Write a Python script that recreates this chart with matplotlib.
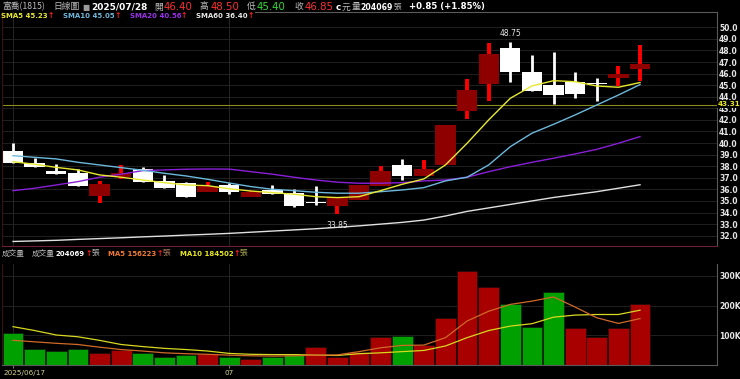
import numpy as np
import matplotlib
matplotlib.use('Agg')
import matplotlib.pyplot as plt
from matplotlib.ticker import FuncFormatter

# 富喬(1815) 日線 2025/06/17 ~ 2025/07/28
dates = ['06/17', '06/18', '06/19', '06/20', '06/23', '06/24', '06/25', '06/26', '06/27', '06/30',
         '07/01', '07/02', '07/03', '07/04', '07/07', '07/08', '07/09', '07/10', '07/11', '07/14',
         '07/15', '07/16', '07/17', '07/18', '07/21', '07/22', '07/23', '07/24', '07/25', '07/28']
opens = [39.35, 38.25, 37.60, 37.40, 35.45, 37.05, 37.75, 36.75, 36.55, 35.75,
         36.40, 35.30, 35.95, 35.65, 34.95, 34.60, 35.10, 36.25, 38.10, 37.15,
         38.10, 42.75, 45.10, 48.20, 46.10, 45.00, 45.30, 45.15, 45.60, 46.40]
highs = [40.00, 38.75, 38.15, 37.80, 36.75, 38.10, 37.90, 37.25, 36.65, 36.65,
         36.55, 35.85, 36.40, 36.00, 36.25, 35.35, 36.40, 38.00, 38.65, 38.55,
         41.60, 45.55, 48.65, 48.75, 47.60, 47.85, 46.15, 45.65, 46.65, 48.50]
lows = [38.25, 37.95, 37.35, 36.25, 34.85, 36.90, 36.60, 36.15, 35.35, 35.75,
        35.60, 35.30, 35.60, 34.50, 34.65, 33.85, 35.10, 36.25, 36.85, 37.15,
        38.10, 42.10, 43.60, 45.30, 44.50, 43.40, 43.90, 43.60, 44.95, 45.40]
closes = [38.25, 37.95, 37.35, 36.25, 36.45, 37.45, 36.60, 36.15, 35.35, 36.30,
          35.75, 35.80, 35.60, 34.60, 34.80, 35.30, 36.40, 37.60, 37.15, 37.80,
          41.60, 44.60, 47.70, 46.15, 44.50, 44.15, 44.25, 45.10, 46.00, 46.85]
prev_close = 39.50
volumes = [108000, 54000, 47000, 54000, 42000, 52000, 42000, 27000, 32000, 36000,
           26000, 19000, 27000, 33000, 59000, 28000, 45000, 95000, 99000, 67000,
           158000, 315000, 264000, 207000, 128000, 247000, 123000, 93000, 124000, 204069]

sma5 = [38.39, 38.17, 37.90, 37.68, 37.25, 37.05, 36.81, 36.58, 36.38, 36.32,
        36.05, 35.86, 35.72, 35.58, 35.37, 35.29, 35.37, 35.89, 36.44, 36.90,
        38.11, 39.98, 42.00, 43.87, 44.93, 45.39, 45.30, 44.93, 44.82, 45.23]
sma10 = [38.91, 38.77, 38.63, 38.34, 38.11, 37.88, 37.65, 37.39, 37.16, 36.87,
         36.55, 36.24, 36.01, 35.89, 35.75, 35.67, 35.67, 35.80, 35.95, 36.15,
         36.73, 37.05, 38.11, 39.69, 40.85, 41.62, 42.43, 43.29, 44.15, 45.05]
sma20 = [35.89, 36.10, 36.38, 36.67, 37.05, 37.31, 37.62, 37.68, 37.74, 37.76,
         37.75, 37.53, 37.31, 37.05, 36.81, 36.62, 36.53, 36.53, 36.58, 36.73,
         36.81, 37.05, 37.53, 37.96, 38.34, 38.69, 39.06, 39.46, 39.98, 40.56]
sma60 = [31.50, 31.55, 31.60, 31.68, 31.75, 31.82, 31.90, 31.97, 32.05, 32.12,
         32.20, 32.30, 32.40, 32.50, 32.60, 32.72, 32.85, 33.00, 33.15, 33.35,
         33.70, 34.10, 34.40, 34.70, 35.00, 35.30, 35.55, 35.80, 36.10, 36.40]
vol_ma5 = [83000, 78000, 73000, 69000, 60000, 52000, 47000, 41000, 38000, 36000,
           33000, 31000, 30000, 31000, 33000, 34000, 45000, 58000, 66000, 67000,
           92000, 148000, 181000, 204000, 215000, 229000, 195000, 159000, 140000, 156223]
vol_ma10 = [129000, 116000, 101000, 95000, 83000, 69000, 62000, 56000, 52000, 47000,
            39000, 36000, 35000, 35000, 33000, 32000, 38000, 41000, 45000, 49000,
            64000, 92000, 116000, 131000, 139000, 161000, 168000, 170000, 170000, 184502]
ref_price = 43.31
price_ticks = np.arange(32, 51, 1.0)
vol_ticks = [100000, 200000, 300000]

W, H = 740, 379
CJK = ['Noto Sans CJK TC', 'DejaVu Sans']
BG = '#000000'
GRID = '#262626'

o = np.array(opens); h = np.array(highs); l = np.array(lows); c = np.array(closes)
v = np.array(volumes)
x = np.arange(len(c))
up = c > o
vol_up = c >= np.concatenate([[prev_close], c[:-1]])

fig = plt.figure(figsize=(W / 100, H / 100), dpi=100)
fig.patch.set_facecolor(BG)


def px_box(left, top, right, bottom):
    return [left / W, 1 - bottom / H, (right - left) / W, (bottom - top) / H]


def put(xp, yp, s, color, size, bold=False, cjk=False, **kw):
    fig.text(xp / W, 1 - yp / H, s, color=color, fontsize=size,
             fontweight='bold' if bold else 'normal',
             family=CJK if cjk else 'DejaVu Sans', ha='left', va='center', **kw)


ax = fig.add_axes(px_box(2, 12, 717, 246))
axv = fig.add_axes(px_box(2, 264, 717, 365))
xlim = (-0.51, 32.56)

for a in (ax, axv):
    a.set_facecolor(BG)
    a.set_xlim(*xlim)
    a.yaxis.tick_right()
    a.tick_params(axis='y', length=0, pad=1.5, labelcolor='#e6e6e6', labelsize=5.5)
    a.set_xticks([0, 10])
    a.tick_params(axis='x', length=2.5, color='#777777', labelbottom=False)
    for xv in (0, 10):
        a.axvline(xv, color=GRID, lw=0.7, zorder=0)
    a.spines['left'].set_color('#3a1010')
    a.spines['right'].set_color('#5a5a5a')
    a.spines['top'].set_visible(False)

ax.tick_params(axis='x', length=0)
ax.spines['bottom'].set_color('#6a2035')
axv.spines['bottom'].set_color('#5a5a5a')
ax.plot([0.354, 1], [1, 1], transform=ax.transAxes, color='#5a5a5a', lw=0.8, clip_on=False)

# ---- 價格區 ----
ax.set_ylim(31.11, 51.32)
ax.set_yticks(price_ticks)
ax.set_yticklabels([f'{t:.1f}' for t in price_ticks])
for lbl in ax.get_yticklabels():
    lbl.set_fontweight('bold')
for t in price_ticks:
    ax.axhline(t, color=GRID, lw=0.6, zorder=0)

body_bot = np.minimum(o, c)
body_h = np.maximum(np.abs(c - o), 0.07)
ax.vlines(x[up], l[up], h[up], color='#ff0000', lw=2.8, zorder=2)
ax.vlines(x[~up], l[~up], h[~up], color='#ffffff', lw=2.0, zorder=2)
ax.bar(x[up], body_h[up], bottom=body_bot[up], width=0.94, color='#8e0000', zorder=2.5)
ax.bar(x[~up], body_h[~up], bottom=body_bot[~up], width=0.94, color='#ffffff', zorder=2.5)

ax.plot(x, sma60, color='#e0e0e0', lw=1.0, zorder=3)
ax.plot(x, sma20, color='#8a1fd8', lw=1.0, zorder=3)
ax.plot(x, sma10, color='#6cb8dc', lw=1.0, zorder=3)
ax.plot(x, sma5, color='#e8e830', lw=1.0, zorder=3)

ax.axhline(ref_price, color='#8a8a20', lw=0.8, zorder=1)
ax.text(1.0015, ref_price + 0.05, f'{ref_price:.2f}', transform=ax.get_yaxis_transform(),
        color='#e8e820', fontsize=5.2, fontweight='bold', ha='left', va='center',
        bbox=dict(facecolor=BG, edgecolor='none', pad=0.4), clip_on=False)

i_lo = int(np.argmin(l)); i_hi = int(np.argmax(h))
ax.annotate(f'{l[i_lo]:.2f}', (x[i_lo], l[i_lo]), xytext=(0, -5), textcoords='offset points',
            ha='center', va='top', color='#e6e6e6', fontsize=5.5)
ax.annotate(f'{h[i_hi]:.2f}', (x[i_hi], h[i_hi]), xytext=(0, 3), textcoords='offset points',
            ha='center', va='bottom', color='#e6e6e6', fontsize=5.5)

# ---- 成交量區 ----
axv.set_ylim(0, 340000)
axv.set_yticks(vol_ticks)
axv.yaxis.set_major_formatter(FuncFormatter(lambda val, pos: f'{int(val / 1000)}K'))
for lbl in axv.get_yticklabels():
    lbl.set_fontweight('bold')
for t in vol_ticks:
    axv.axhline(t, color=GRID, lw=0.6, zorder=0)
axv.bar(x, v, width=0.96, color=np.where(vol_up, '#a80000', '#00a000'),
        edgecolor='#101010', linewidth=0.4, zorder=2)
axv.plot(x, vol_ma10, color='#d8d820', lw=0.9, zorder=3)
axv.plot(x, vol_ma5, color='#d06a28', lw=0.9, zorder=3)

# ---- 文字 ----
gray = '#bdbdbd'
y1 = 7
put(2, y1, '富喬(1815)', gray, 6.3, cjk=True)
put(53, y1, '日線圖', gray, 6.3, cjk=True)
put(82, y1 + 0.5, '■', '#9a9a9a', 5.5)
put(91, y1, '2025/07/28', '#ffffff', 6.5, bold=True)
put(154, y1, '開', gray, 6.3, cjk=True)
put(164, y1, f'{o[-1]:.2f}', '#ff3030', 7.3)
put(200, y1, '高', gray, 6.3, cjk=True)
put(211, y1, f'{h[-1]:.2f}', '#ff3030', 7.3)
put(247, y1, '低', gray, 6.3, cjk=True)
put(257, y1, f'{l[-1]:.2f}', '#30dd30', 7.3)
put(294, y1, '收', gray, 6.3, cjk=True)
put(305, y1, f'{c[-1]:.2f}', '#ff3030', 7.3)
put(336, y1, 'c', '#ffffff', 6.3, bold=True)
put(342, y1, '元', gray, 6.3, cjk=True)
put(352, y1, '量', gray, 6.3, cjk=True)
put(360, y1, f'{volumes[-1]}', '#ffffff', 5.6, bold=True)
put(394, y1, '張', gray, 5.5, cjk=True)
chg = c[-1] - c[-2]
put(409, y1, f'+{chg:.2f} (+{chg / c[-2] * 100:.2f}%)', '#ffffff', 6.2, bold=True)

y2 = 16
arrow = '↑'
put(1, y2, f'SMA5 {sma5[-1]:.2f}', '#e8e830', 5.0, bold=True)
put(48, y2, arrow, '#ff2020', 5.5, bold=True)
put(63, y2, f'SMA10 {sma10[-1]:.2f}', '#6cb8dc', 5.0, bold=True)
put(115, y2, arrow, '#ff2020', 5.5, bold=True)
put(130, y2, f'SMA20 {sma20[-1]:.2f}', '#9a30e8', 5.0, bold=True)
put(181, y2, arrow, '#ff2020', 5.5, bold=True)
put(196, y2, f'SMA60 {sma60[-1]:.2f}', '#e6e6e6', 5.0, bold=True)
put(248, y2, arrow, '#ff2020', 5.5, bold=True)

y3 = 253.5
put(2, y3, '成交量', gray, 5.5, cjk=True)
put(32, y3, '成交量', gray, 5.5, cjk=True)
put(56, y3, f'{volumes[-1]}', '#ffffff', 5.0, bold=True)
put(86, y3, arrow, '#ff2020', 5.5, bold=True)
put(92, y3, '張', gray, 5.5, cjk=True)
put(108, y3, f'MA5 {vol_ma5[-1]}', '#f07a30', 5.0, bold=True)
put(157, y3, arrow, '#ff2020', 5.5, bold=True)
put(163, y3, '張', '#b08060', 5.5, cjk=True)
put(180, y3, f'MA10 {vol_ma10[-1]}', '#e6e620', 5.0, bold=True)
put(234, y3, arrow, '#ff2020', 5.5, bold=True)
put(240, y3, '張', '#b0b050', 5.5, cjk=True)

put(3, 373, '2025/' + dates[0], '#d4d48a', 5.2)
fig.text((2 + (10 - xlim[0]) / (xlim[1] - xlim[0]) * 715) / W, 1 - 373 / H, dates[10][:2],
         color='#d4d48a', fontsize=5.2, ha='center', va='center')

fig.savefig('out.png', dpi=100, facecolor=BG)
